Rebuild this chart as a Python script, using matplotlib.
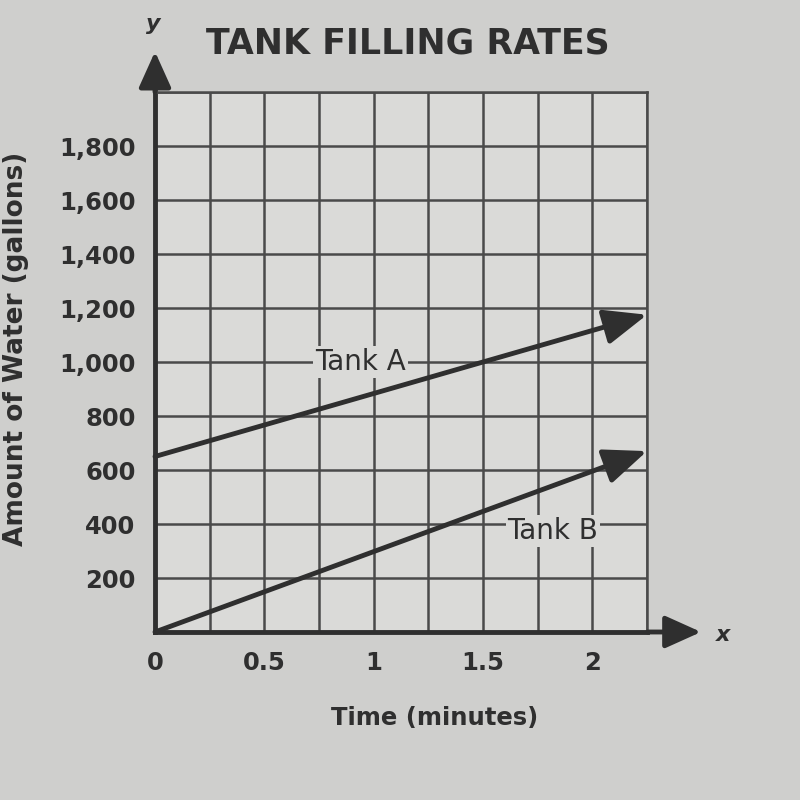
import matplotlib
matplotlib.use("Agg")
import matplotlib.pyplot as plt

# ---------- DATA ----------
time_min = [0, 2.25]
tank_a = [650, 1175]
tank_b = [0, 670]
x_ticks = [0, 0.5, 1, 1.5, 2]
x_labels = ["0", "0.5", "1", "1.5", "2"]
y_ticks = [200, 400, 600, 800, 1000, 1200, 1400, 1600, 1800]
y_labels = ["200", "400", "600", "800", "1,000", "1,200", "1,400", "1,600", "1,800"]

# ---------- STYLE ----------
ink = "#2f2f2f"
grid_c = "#4a4a4a"
bg = "#cfcfcd"
plot_bg = "#dadad8"
plt.rcParams["font.family"] = ["DejaVu Sans"]

fig = plt.figure(figsize=(8, 8), dpi=100, facecolor=bg)
ax = fig.add_axes([0.19375, 0.21, 0.615, 0.675], facecolor=plot_bg)

ax.set_xlim(0, 2.25)
ax.set_ylim(0, 2000)

ax.set_xticks(x_ticks)
ax.set_xticklabels(x_labels)
ax.set_yticks(y_ticks)
ax.set_yticklabels(y_labels)

# grid every 0.25 min and 200 gal
ax.set_xticks([i * 0.25 for i in range(10)], minor=True)
ax.set_yticks([i * 200 for i in range(11)], minor=True)
ax.grid(which="both", color=grid_c, linewidth=1.8)
ax.set_axisbelow(True)

ax.tick_params(which="both", length=0)
ax.tick_params(axis="y", pad=14, labelsize=17.5, labelcolor=ink)
ax.tick_params(axis="x", pad=14, labelsize=17.5, labelcolor=ink)
for lab in ax.get_xticklabels() + ax.get_yticklabels():
    lab.set_fontweight("bold")

for side in ["top", "right"]:
    ax.spines[side].set_color(grid_c)
    ax.spines[side].set_linewidth(1.8)
for side in ["left", "bottom"]:
    ax.spines[side].set_color(ink)
    ax.spines[side].set_linewidth(3.5)

# axis arrows
ax.annotate("", xy=(0, 2160), xytext=(0, 1990), annotation_clip=False,
            arrowprops=dict(arrowstyle="-|>,head_length=1.0,head_width=0.45",
                            lw=3.5, color=ink, mutation_scale=22))
ax.annotate("", xy=(2.51, 0), xytext=(2.24, 0), annotation_clip=False,
            arrowprops=dict(arrowstyle="-|>,head_length=1.0,head_width=0.45",
                            lw=3.5, color=ink, mutation_scale=22))
ax.text(-0.01, 2250, "y", fontsize=16, fontstyle="italic", fontweight="bold",
        color=ink, ha="center", va="center", clip_on=False)
ax.text(2.6, -10, "x", fontsize=16, fontstyle="italic", fontweight="bold",
        color=ink, ha="center", va="center", clip_on=False)

# tank lines
for series in [tank_a, tank_b]:
    ax.annotate("", xy=(time_min[-1], series[-1]), xytext=(time_min[0], series[0]),
                annotation_clip=False,
                arrowprops=dict(arrowstyle="-|>,head_length=1.1,head_width=0.45",
                                lw=3.5, color=ink, mutation_scale=24,
                                shrinkA=0, shrinkB=0))

ax.text(0.94, 1000, "Tank A", fontsize=20, color=ink, ha="center", va="center",
        bbox=dict(facecolor=plot_bg, edgecolor="none", pad=1.5))
ax.text(1.82, 375, "Tank B", fontsize=20, color=ink, ha="center", va="center",
        bbox=dict(facecolor=plot_bg, edgecolor="none", pad=1.5))

fig.text(0.51, 0.946, "TANK FILLING RATES", fontsize=25, fontweight="bold",
         color=ink, ha="center", va="center")
fig.text(0.543, 0.102, "Time (minutes)", fontsize=17.5, fontweight="bold",
         color=ink, ha="center", va="center")
fig.text(0.02, 0.564, "Amount of Water (gallons)", fontsize=19, fontweight="bold",
         color=ink, ha="center", va="center", rotation=90)

plt.savefig("out.png", dpi=100, facecolor=bg)
